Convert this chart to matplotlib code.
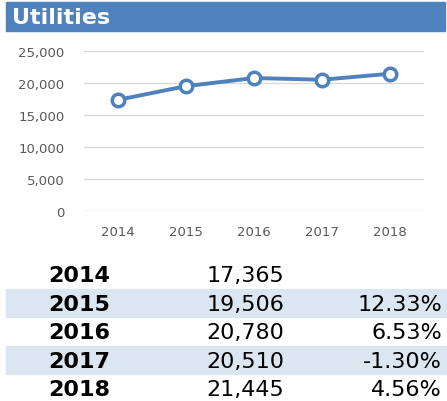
import matplotlib
matplotlib.use("Agg")
import matplotlib.pyplot as plt
from matplotlib.patches import Rectangle

years = ["2014", "2015", "2016", "2017", "2018"]
values = [17365, 19506, 20780, 20510, 21445]
yticks = [0, 5000, 10000, 15000, 20000, 25000]
title = "Utilities"

blue = "#4f81bd"
band = "#dce6f1"
grey = "#595959"

W, H = 447, 402
fig = plt.figure(figsize=(W / 100, H / 100), dpi=100)
fig.patch.set_facecolor("white")

# header bar
fig.patches.append(Rectangle((6 / W, 1 - 32 / H), 439 / W, 29 / H,
                             transform=fig.transFigure, color=blue, zorder=0))
fig.text(12 / W, 1 - 18 / H, title, color="white", fontsize=16,
         fontweight="bold", family="DejaVu Sans", va="center", ha="left")

# line chart
ax = fig.add_axes([84 / W, 1 - 212 / H, 340 / W, 160 / H])
x = range(len(years))
ax.plot(x, values, color=blue, lw=2.8, marker="o", ms=9,
        mfc="white", mec=blue, mew=2.5, zorder=3, clip_on=False)
ax.set_xlim(-0.5, len(years) - 0.5)
ax.set_ylim(0, 25000)
ax.set_yticks(yticks)
ax.set_yticklabels([f"{v:,}" for v in yticks])
ax.set_xticks(list(x))
ax.set_xticklabels(years)
ax.grid(axis="y", color="#d9d9d9", lw=1)
ax.set_axisbelow(True)
for s in ax.spines.values():
    s.set_visible(False)
ax.tick_params(length=0, labelcolor=grey, labelsize=9.5)
ax.tick_params(axis="y", pad=14)
ax.tick_params(axis="x", pad=10)

# table below the chart
tab = fig.add_axes([0, 0, 1, 1])
tab.set_xlim(0, W)
tab.set_ylim(H, 0)
tab.axis("off")
row_h = 28.5
top = 261
for i, (yr, v) in enumerate(zip(years, values)):
    y0 = top + i * row_h
    yc = y0 + row_h / 2 + 1
    if i % 2 == 1:
        tab.add_patch(Rectangle((6, y0), W - 6, row_h, color=band, zorder=0))
    tab.text(48, yc, yr, fontsize=16, fontweight="bold", va="center", ha="left")
    tab.text(284, yc, f"{v:,}", fontsize=16, va="center", ha="right")
    if i > 0:
        pct = (v / values[i - 1] - 1) * 100
        tab.text(442, yc, f"{pct:.2f}%", fontsize=16, va="center", ha="right")

fig.savefig("out.png", dpi=100)
